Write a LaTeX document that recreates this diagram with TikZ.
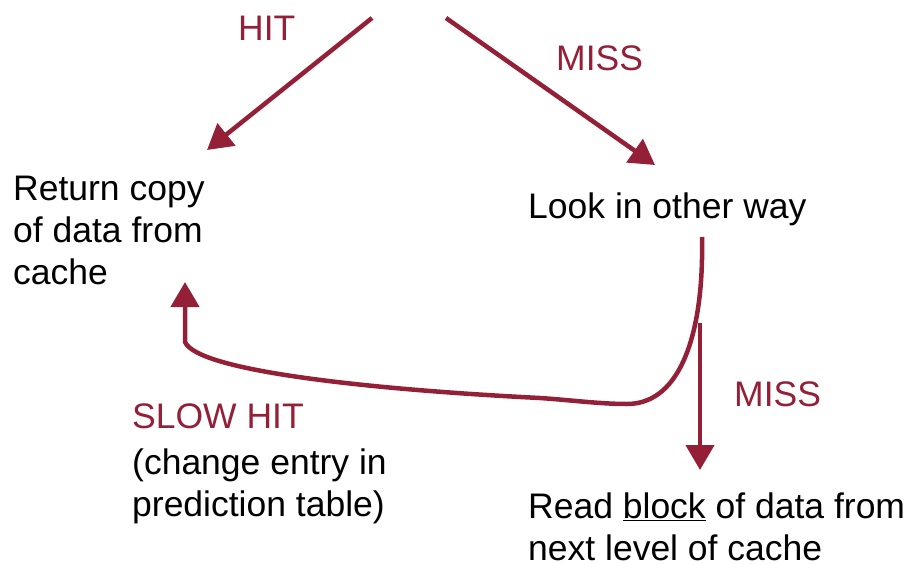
\documentclass[tikz,border=0pt]{standalone}
\usepackage{fontspec}
\setmainfont{Liberation Sans}
\usetikzlibrary{arrows.meta}
\definecolor{dred}{RGB}{148,32,56}
\tikzset{
  txt/.style={anchor=base west, inner sep=0pt, align=left, font=\fontsize{35.5}{42}\selectfont},
  lbl/.style={txt, text=dred},
  conn/.style={draw=dred, line width=4.5pt, -{Triangle[length=25pt,width=28pt]}}
}
\begin{document}
\begin{tikzpicture}[x=1pt,y=-1pt]
\useasboundingbox (0,0) rectangle (911,565);
\node[txt] (ret) at (13,284) {Return copy\\of data from\\cache};
\node[txt] (look) at (528,218) {Look in other way};
\node[txt] (read) at (528,560) {Read \underline{block} of data from\\next level of cache};
\node[lbl] (hit) at (238,40) {HIT};
\node[lbl] (miss1) at (556,70) {MISS};
\node[lbl] (miss2) at (734,406) {MISS};
\node[lbl] (slow) at (132,428) {SLOW HIT};
\node[txt] (slowtxt) at (132,516) {(change entry in\\prediction table)};
\coordinate (hs) at (372,18);
\coordinate (ms) at (446,18);
\coordinate (ls) at (702,237);
\coordinate (ds) at (700,323);
\coordinate (rt) at (185,282);
\coordinate (lt) at (207,150);
\coordinate (mt) at (655,165);
\coordinate (dt) at (700,470);
\draw[conn] (hs) -- (lt);
\draw[conn] (ms) -- (mt);
\draw[conn] (ds) -- (dt);
\draw[conn] (ls) .. controls (704,330) and (682,404) .. (627,404)
  .. controls (600,404) and (570,400) .. (540,398)
  .. controls (380,390) and (198,372) .. (185,342) -- (rt);
\end{tikzpicture}
\end{document}
